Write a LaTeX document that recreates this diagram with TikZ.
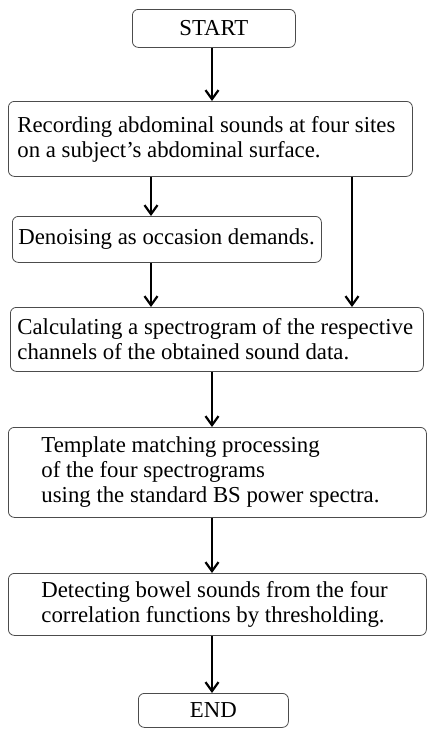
\documentclass[tikz,border=0pt]{standalone}
\usepackage{fontspec}
\setmainfont{Liberation Serif}
\usetikzlibrary{arrows.meta}

\begin{document}
\begin{tikzpicture}[x=1pt, y=-1pt,
    box/.style={draw=black!70, line width=0.8pt, rounded corners=6pt,
        anchor=north west, inner ysep=0pt,
        font=\fontsize{22.8}{25}\selectfont},
    flow/.style={-{Straight Barb[length=9pt,width=13pt]}, line width=2.2pt}]

\useasboundingbox (0,0) rectangle (427,729);

% Boxes, each placed by its top left corner
\node[box, minimum width=163pt, minimum height=38pt] (start) at (132,9) {START};

\node[box, text width=386pt, inner xsep=9pt, minimum height=75pt, align=flush left]
    (record) at (8,101)
    {Recording abdominal sounds at four sites\\on a subject's abdominal surface.};

\node[box, text width=297pt, inner xsep=6pt, minimum height=46pt, align=flush left]
    (denoise) at (12,216) {Denoising as occasion demands.};

\node[box, text width=399pt, inner xsep=7pt, minimum height=64pt, align=flush left]
    (spectro) at (10,307)
    {Calculating a spectrogram of the respective\\channels of the obtained sound data.};

\node[box, text width=352pt, inner xsep=33pt, minimum height=90pt, align=flush left]
    (template) at (8,427)
    {Template matching processing\\of the four spectrograms\\using the standard BS power spectra.};

\node[box, text width=352pt, inner xsep=33pt, minimum height=62pt, align=flush left]
    (detect) at (8,573)
    {Detecting bowel sounds from the four\\correlation functions by thresholding.};

\node[box, minimum width=150pt, minimum height=34pt] (finish) at (138,693) {END};

% Columns of the arrows
\coordinate (midx) at (212,0);
\coordinate (leftx) at (151,0);
\coordinate (rightx) at (352,0);

% Arrows
\draw[flow] (start.south -| midx) -- (record.north -| midx);
\draw[flow] (record.south -| leftx) -- (denoise.north -| leftx);
\draw[flow] (denoise.south -| leftx) -- (spectro.north -| leftx);
\draw[flow] (record.south -| rightx) -- (spectro.north -| rightx);
\draw[flow] (spectro.south -| midx) -- (template.north -| midx);
\draw[flow] (template.south -| midx) -- (detect.north -| midx);
\draw[flow] (detect.south -| midx) -- (finish.north -| midx);

\end{tikzpicture}
\end{document}
